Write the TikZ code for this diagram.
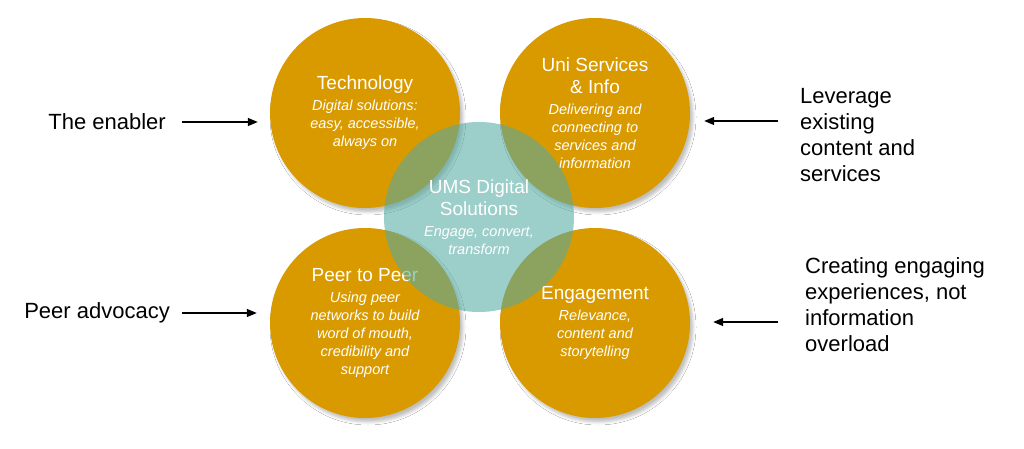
\documentclass[tikz,border=0pt]{standalone}
\usepackage{fontspec}
\setmainfont{Liberation Sans}
\usepackage{tikz}
\usetikzlibrary{arrows.meta, positioning, calc, shadows.blur}
\definecolor{umsgold}{HTML}{D99A00}
\definecolor{umsteal}{HTML}{55ABA4}

\tikzset{
  pillar/.style={circle, fill=umsgold, minimum size=190pt, inner sep=0pt,
    text=white, align=center, font=\fontsize{14.5}{18}\selectfont\itshape,
    blur shadow={shadow xshift=3pt, shadow yshift=-4pt, shadow blur radius=3pt, shadow opacity=25}},
  hub/.style={circle, fill=umsteal, fill opacity=0.58, text opacity=1, minimum size=190pt,
    inner sep=0pt, text=white, align=center, font=\fontsize{14.5}{18}\selectfont\itshape},
  sidenote/.style={inner sep=0pt, align=left, font=\fontsize{22}{26}\selectfont},
  pointer/.style={-{Triangle[length=10pt, width=8pt]}, line width=1.4pt},
}
\newcommand{\ttl}[1]{{\upshape\fontsize{19}{22}\selectfont #1}}

\begin{document}
\begin{tikzpicture}[x=1pt, y=-1pt]
  \useasboundingbox[fill=white] (0,0) rectangle (1024,449);

  % four pillars
  \node[pillar] (tech) at (365,113) {\ttl{Technology}\\[3pt] Digital solutions:\\ easy, accessible,\\ always on};
  \node[pillar] (uni) at (595,113) {\ttl{Uni Services}\\[4pt] \ttl{\& Info}\\[3pt] Delivering and\\ connecting to\\ services and\\ information};
  \node[pillar] (peer) at (365,323) {\ttl{Peer to Peer}\\[3pt] Using peer\\ networks to build\\ word of mouth,\\ credibility and\\ support};
  \node[pillar] (engage) at (595,323) {\ttl{Engagement}\\[3pt] Relevance,\\ content and\\ storytelling};

  % centre
  \node[hub] (ums) at (479,217) {\ttl{UMS Digital}\\[4pt] \ttl{Solutions}\\[3pt] Engage, convert,\\ transform};

  % side notes
  \node[sidenote, anchor=east] (enabler) at (166,122) {The enabler};
  \node[sidenote, anchor=east] (advocacy) at (170,313) {Peer advocacy};
  \node[sidenote, anchor=west] (leverage) at (800,135) {Leverage\\ existing\\ content and\\ services};
  \node[sidenote, anchor=west] (creating) at (805,305) {Creating engaging\\ experiences, not\\ information\\ overload};

  \coordinate (levfrom) at (778,121);
  \coordinate (creafrom) at (778,322);

  \draw[pointer, shorten <=16pt, shorten >=12pt] (enabler.east) -- (enabler.east -| tech.west);
  \draw[pointer, shorten <=12pt, shorten >=13pt] (advocacy.east) -- (advocacy.east -| peer.west);
  \draw[pointer, shorten >=14pt] (levfrom) -- (levfrom -| uni.east);
  \draw[pointer, shorten >=23pt] (creafrom) -- (creafrom -| engage.east);
\end{tikzpicture}
\end{document}
